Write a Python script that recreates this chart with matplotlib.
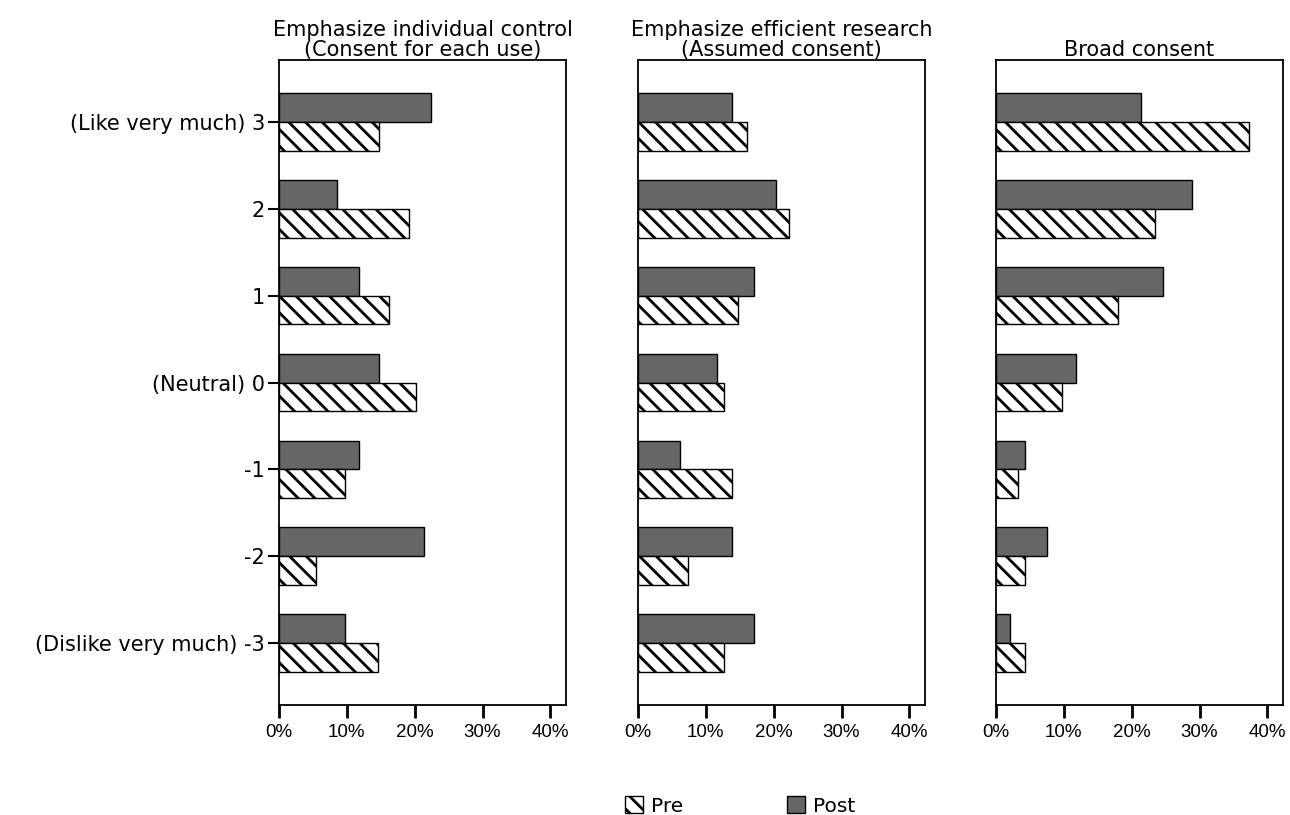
import numpy as np
import matplotlib
matplotlib.use('Agg')
import matplotlib.pyplot as plt
from matplotlib.patches import Patch

# Response scale (top to bottom as drawn)
categories = ['(Like very much) 3', '2', '1', '(Neutral) 0', '-1', '-2', '(Dislike very much) -3']

panel_titles = ['Emphasize individual control\n(Consent for each use)',
                'Emphasize efficient research\n(Assumed consent)',
                'Broad consent']

# Percent of respondents, same order as categories
control_pre = [14.8, 19.2, 16.2, 20.2, 9.7, 5.4, 14.6]
control_post = [22.4, 8.6, 11.8, 14.8, 11.8, 21.3, 9.7]

efficient_pre = [16.0, 22.2, 14.8, 12.7, 13.8, 7.3, 12.7]
efficient_post = [13.8, 20.3, 17.1, 11.7, 6.2, 13.8, 17.1]

broad_pre = [37.3, 23.4, 18.0, 9.7, 3.2, 4.3, 4.3]
broad_post = [21.3, 28.9, 24.6, 11.8, 4.3, 7.5, 2.1]

x_ticks = [0, 10, 20, 30, 40]

pre_series = [control_pre, efficient_pre, broad_pre]
post_series = [control_post, efficient_post, broad_post]

plt.rcParams['font.family'] = ['Liberation Sans', 'DejaVu Sans']
plt.rcParams['hatch.linewidth'] = 2.0
wide_font = ['DejaVu Sans']

post_color = '#666666'

fig = plt.figure(figsize=(12.9, 8.15), dpi=100)
lefts = [279 / 1290, 638 / 1290, 996 / 1290]
width = 287 / 1290
bottom = 1 - 705 / 815
height = (705 - 60) / 815

y = np.arange(len(categories))[::-1]
bar_h = 0.33

for i in range(3):
    ax = fig.add_axes([lefts[i], bottom, width, height])
    ax.barh(y + bar_h / 2, post_series[i], height=bar_h, color=post_color,
            edgecolor='black', linewidth=1.0, label='Post')
    ax.barh(y - bar_h / 2, pre_series[i], height=bar_h, color='white',
            edgecolor='black', linewidth=1.0, hatch='\\\\', label='Pre')
    ax.set_xlim(0, 42.3)
    ax.set_ylim(-0.715, 6.715)
    ax.set_xticks(x_ticks)
    ax.set_xticklabels([f'{t}%' for t in x_ticks], fontsize=13.5)
    ax.tick_params(axis='x', direction='out', length=9, width=2, pad=5)
    if i == 0:
        ax.set_yticks(y)
        ax.set_yticklabels(categories, fontsize=15, family=wide_font)
        ax.tick_params(axis='y', direction='out', length=8, width=1.5, pad=2)
    else:
        ax.set_yticks([])
    for s in ax.spines.values():
        s.set_linewidth(1.3)
    ax.set_title(panel_titles[i], fontsize=15, pad=3, linespacing=1.0,
                 family=wide_font)

handles = [Patch(facecolor='white', edgecolor='black', hatch='\\\\', label='Pre'),
           Patch(facecolor=post_color, edgecolor='black', label='Post')]
fig.legend(handles=handles, loc='center', bbox_to_anchor=(0.574, 0.011), ncol=2,
           frameon=False, prop={'family': wide_font, 'size': 14.5},
           handlelength=0.9, handleheight=0.9, columnspacing=5.15,
           handletextpad=0.4)

fig.savefig('out.png', dpi=100)
